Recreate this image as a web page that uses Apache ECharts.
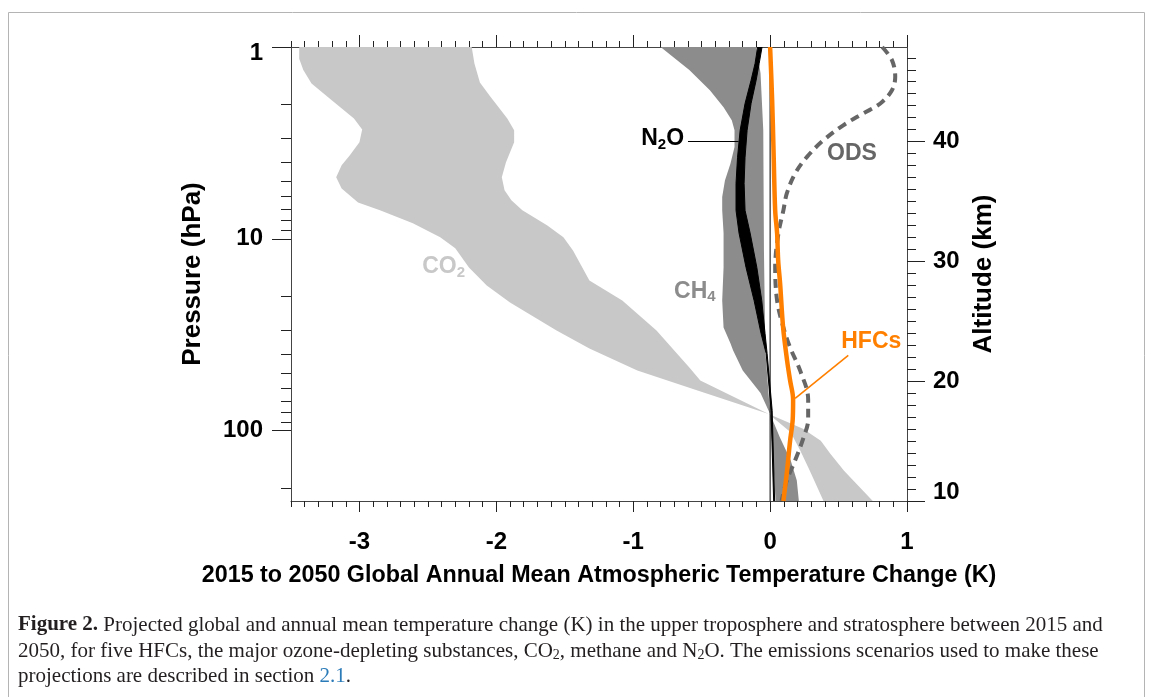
<!DOCTYPE html>
<html><head><meta charset="utf-8">
<script src="https://cdn.jsdelivr.net/npm/echarts@6/dist/echarts.min.js"></script>
<style>html,body{margin:0;padding:0;background:#fff}#c{width:1153px;height:697px}</style>
</head><body><div id="c"></div>
<script>
// ---- axis ranges & ticks ----
const tMin = -3.5, tMax = 1;
const pMin = 1, pMax = 233;
const zMin = 10, zMax = 47.9;
const xMajorTicks = [-3, -2, -1, 0, 1];
const xMinorTicks = [];
for (let i = 0; i <= 45; i++) xMinorTicks.push(+(tMin + i * 0.1).toFixed(1));
const pMajorTicks = [1, 10, 100];
const pMinorTicks = [2, 3, 4, 5, 6, 7, 8, 9, 20, 30, 40, 50, 60, 70, 80, 90, 200];
const zMajorTicks = [10, 20, 30, 40];
const zMinorTicks = [];
for (let z = 10; z <= 47; z++) zMinorTicks.push(z);

// ---- CO2 band (edges, pressure hPa / temperature change K) ----
const co2LeftP = [1, 1.15, 1.32, 1.55, 1.85, 2.36, 2.69, 3.14, 3.67, 4.14, 4.78, 5.46, 6.46, 7.11, 8.31, 9.83, 11.2, 14.1, 17.5, 21.5, 30.1, 37.3, 48.6, 61.8, 82, 102, 127, 162, 233];
const co2LeftT = [-3.44, -3.44, -3.41, -3.35, -3.22, -3.04, -2.98, -3.00, -3.07, -3.13, -3.17, -3.13, -3.01, -2.85, -2.61, -2.41, -2.30, -2.20, -2.07, -1.90, -1.56, -1.32, -0.97, -0.53, -0.01, 0.15, 0.22, 0.29, 0.39];
const co2RightP = [1, 1.22, 1.53, 1.79, 2.36, 2.72, 3.14, 4.00, 4.78, 5.59, 6.30, 7.11, 8.51, 9.83, 11.5, 16.5, 21.0, 30.1, 46.9, 54.8, 82, 97.9, 113, 132, 162, 233];
const co2RightT = [-2.18, -2.16, -2.12, -2.05, -1.92, -1.87, -1.87, -1.93, -1.96, -1.94, -1.89, -1.81, -1.63, -1.51, -1.44, -1.32, -1.08, -0.83, -0.59, -0.51, -0.01, 0.24, 0.37, 0.44, 0.54, 0.75];

// ---- CH4 band ----
const ch4LeftP = [1, 1.32, 1.68, 2.06, 2.41, 2.72, 3.32, 4.06, 4.96, 6.06, 7.11, 9.34, 14.1, 21.0, 29.0, 35.1, 38.2, 48.6, 63.8, 82, 132, 233];
const ch4LeftT = [-0.80, -0.59, -0.44, -0.34, -0.28, -0.26, -0.26, -0.29, -0.33, -0.35, -0.35, -0.34, -0.34, -0.35, -0.34, -0.29, -0.27, -0.20, -0.07, 0.0, 0.02, 0.04];
const ch4RightP = [1, 1.37, 2.72, 11.5, 38.2, 82, 108, 143, 182, 233];
const ch4RightT = [-0.10, -0.07, -0.05, -0.045, -0.035, 0.0, 0.07, 0.15, 0.195, 0.21];

// ---- N2O band ----
const n2oP = [1, 1.22, 1.49, 1.97, 2.72, 3.76, 5.14, 7.11, 9.34, 14.1, 21.0, 31.2, 39.6, 78.6, 233];
const n2oLeftT = [-0.091, -0.110, -0.139, -0.183, -0.219, -0.238, -0.249, -0.249, -0.227, -0.176, -0.117, -0.066, -0.029, 0.007, 0.026];
const n2oRightT = [-0.059, -0.080, -0.102, -0.139, -0.168, -0.183, -0.190, -0.183, -0.146, -0.097, -0.061, -0.037, -0.022, 0.015, 0.033];

// ---- ODS (dashed) ----
const odsP = [1, 1.17, 1.43, 1.68, 1.97, 2.22, 2.56, 3.07, 3.75, 4.56, 5.80, 7.11, 9.34, 14.1, 21.0, 29.0, 36.9, 48.6, 68.9, 87.6, 109, 143, 182, 233];
const odsT = [0.819, 0.890, 0.914, 0.890, 0.805, 0.680, 0.534, 0.388, 0.268, 0.183, 0.122, 0.097, 0.061, 0.037, 0.051, 0.097, 0.146, 0.219, 0.278, 0.278, 0.244, 0.183, 0.122, 0.084];

// ---- HFCs ----
const hfcP = [1, 1.90, 3.46, 7.11, 9.34, 13.0, 17.1, 29.0, 43.1, 54.8, 68.9, 87.6, 113, 161.5, 233];
const hfcT = [0.0, 0.015, 0.025, 0.037, 0.051, 0.059, 0.073, 0.095, 0.124, 0.146, 0.168, 0.165, 0.146, 0.124, 0.097];

// ---- annotations (data coordinates) ----
const annTexts = ['N{s|2}O', 'ODS', 'CH{s|4}', 'CO{s|2}', 'HFCs'];
const annT = [-0.785, 0.598, -0.55, -2.385, 0.739];
const annP = [3.0, 3.61, 18.8, 14.0, 34.5];
const annColors = ['#000000', '#666666', '#8c8c8c', '#c8c8c8', '#ff8000'];
const leaderT = [[-0.60, -0.23], [0.571, 0.183]];
const leaderP = [[3.11, 3.11], [40.6, 68.0]];
const leaderColors = ['#000000', '#ff8000'];

const FF = '"Liberation Sans", Arial, Helvetica, sans-serif';
const SERIF = '"Liberation Serif", "Times New Roman", serif';

function band(name, lp, lt, rp, rt, color, stroke) {
  return {
    type: 'custom', name: name, xAxisIndex: 0, yAxisIndex: 0, clip: true, silent: true,
    data: [[0, 1]],
    renderItem: function (params, api) {
      const pts = [];
      for (let i = 0; i < lp.length; i++) pts.push(api.coord([lt[i], lp[i]]));
      for (let i = rp.length - 1; i >= 0; i--) pts.push(api.coord([rt[i], rp[i]]));
      return {
        type: 'polygon', shape: { points: pts },
        style: { fill: color, stroke: stroke || null, lineWidth: stroke ? 1 : 0 }
      };
    }
  };
}

const chart = echarts.init(document.getElementById('c'), null, { renderer: 'canvas' });

const lineCol = '#444';
const tickCol = '#222';
const tickLabel = { fontSize: 24, fontWeight: 'bold', color: '#000', fontFamily: FF };
const titleStyle = { fontSize: 26, fontWeight: 'bold', color: '#000', fontFamily: FF };

function xAx(pos, len, ticks, major) {
  return {
    type: 'value', min: tMin, max: tMax, position: pos, gridIndex: 0,
    axisLine: { show: major, onZero: false, lineStyle: { color: lineCol, width: 1 } },
    axisTick: { show: true, length: len, customValues: ticks, lineStyle: { color: tickCol, width: 1 } },
    axisLabel: { show: false },
    splitLine: { show: false }, minorTick: { show: false }
  };
}
const xAxes = [xAx('bottom', 11, xMajorTicks, true), xAx('bottom', 6, xMinorTicks, false),
               xAx('top', 12, xMajorTicks, true), xAx('top', 6, xMinorTicks, false)];
xAxes[0].axisLabel = Object.assign({ show: true, customValues: xMajorTicks, margin: 29 }, tickLabel);
xAxes[0].name = '2015 to 2050 Global Annual Mean Atmospheric Temperature Change (K)';
xAxes[0].nameLocation = 'middle';
xAxes[0].nameGap = 63;
xAxes[0].nameTextStyle = Object.assign({}, titleStyle, { fontSize: 23.3 });

function yLog(len, ticks, major) {
  return {
    type: 'log', logBase: 10, min: pMin, max: pMax, inverse: true, position: 'left', gridIndex: 0,
    axisLine: { show: major, onZero: false, lineStyle: { color: lineCol, width: 1 } },
    axisTick: { show: true, length: len, customValues: ticks, lineStyle: { color: tickCol, width: 1 } },
    axisLabel: { show: false }, splitLine: { show: false }, minorTick: { show: false }
  };
}
function yAlt(len, ticks, major) {
  return {
    type: 'value', min: zMin, max: zMax, position: 'right', gridIndex: 0,
    axisLine: { show: major, onZero: false, lineStyle: { color: lineCol, width: 1 } },
    axisTick: { show: true, length: len, customValues: ticks, lineStyle: { color: tickCol, width: 1 } },
    axisLabel: { show: false }, splitLine: { show: false }, minorTick: { show: false }
  };
}
const yAxes = [yLog(19, pMajorTicks, true), yLog(10, pMinorTicks, false),
               yAlt(18, zMajorTicks, true), yAlt(9, zMinorTicks, false)];
yAxes[0].axisLabel = Object.assign({
  show: true, customValues: pMajorTicks, margin: 28,
  formatter: function (v) { return v === 1 ? '{t|1}' : String(v); },
  rich: { t: Object.assign({ padding: [12, 0, 0, 0] }, tickLabel) }
}, tickLabel);
yAxes[0].name = 'Pressure (hPa)';
yAxes[0].nameLocation = 'middle';
yAxes[0].nameGap = 85;
yAxes[0].nameTextStyle = titleStyle;
yAxes[2].axisLabel = Object.assign({
  show: true, customValues: zMajorTicks, margin: 26,
  formatter: function (v) { return v === 10 ? '{b|10}' : String(v); },
  rich: { b: Object.assign({ padding: [0, 0, 18, 0] }, tickLabel) }
}, tickLabel);
yAxes[2].name = 'Altitude (km)';
yAxes[2].nameLocation = 'middle';
yAxes[2].nameGap = 59;
yAxes[2].nameTextStyle = titleStyle;

const pairs = (P, T) => P.map((p, i) => [T[i], p]);

const option = {
  animation: false,
  backgroundColor: '#ffffff',
  grid: { left: 291, top: 47, right: 246, bottom: 196, containLabel: false },
  xAxis: xAxes,
  yAxis: yAxes,
  series: [
    band('CO2', co2LeftP, co2LeftT, co2RightP, co2RightT, '#c8c8c8'),
    band('CH4', ch4LeftP, ch4LeftT, ch4RightP, ch4RightT, '#8c8c8c'),
    band('N2O', n2oP, n2oLeftT, n2oP, n2oRightT, '#000000', '#000000'),
    {
      type: 'line', name: 'zero', xAxisIndex: 0, yAxisIndex: 0, silent: true,
      data: [[0, pMin], [0, pMax]], showSymbol: false, symbol: 'none',
      lineStyle: { color: '#000', width: 1 }
    },
    {
      type: 'line', name: 'ODS', xAxisIndex: 0, yAxisIndex: 0, silent: true,
      data: pairs(odsP, odsT), smooth: 0.35, showSymbol: false, symbol: 'none',
      lineStyle: { color: '#666666', width: 4, type: [9, 6], cap: 'butt' }
    },
    {
      type: 'line', name: 'HFCs', xAxisIndex: 0, yAxisIndex: 0, silent: true,
      data: pairs(hfcP, hfcT), smooth: 0.35, showSymbol: false, symbol: 'none',
      lineStyle: { color: '#ff8000', width: 4.5 }
    },
    {
      type: 'custom', name: 'annotations', xAxisIndex: 0, yAxisIndex: 0, silent: true, clip: false,
      data: [[0, 1]],
      renderItem: function (params, api) {
        const children = [];
        for (let k = 0; k < leaderT.length; k++) {
          const a = api.coord([leaderT[k][0], leaderP[k][0]]);
          const b = api.coord([leaderT[k][1], leaderP[k][1]]);
          children.push({ type: 'line', shape: { x1: a[0], y1: a[1], x2: b[0], y2: b[1] },
            style: { stroke: leaderColors[k], lineWidth: k === 0 ? 1.2 : 1.6 } });
        }
        for (let i = 0; i < annTexts.length; i++) {
          const c = api.coord([annT[i], annP[i]]);
          children.push({
            type: 'text', x: c[0], y: c[1],
            style: {
              text: annTexts[i], fill: annColors[i], fontSize: 23, fontWeight: 'bold', fontFamily: FF,
              align: 'center', verticalAlign: 'middle',
              rich: { s: { fill: annColors[i], fontSize: 15, fontWeight: 'bold', fontFamily: FF, padding: [12, 0, 0, 0] } }
            }
          });
        }
        return { type: 'group', children: children };
      }
    }
  ],
  graphic: [
    { type: 'rect', silent: true, shape: { x: 8.5, y: 12.5, width: 1136, height: 720 },
      style: { fill: 'none', stroke: '#b4b4b4', lineWidth: 1 } },
    { type: 'text', x: 18, y: 625, silent: true,
      style: { text: '{b|Figure 2.} Projected global and annual mean temperature change (K) in the upper troposphere and stratosphere between 2015 and',
        fontSize: 21, fontFamily: SERIF, fill: '#231f20', verticalAlign: 'middle',
        rich: { b: { fontSize: 21, fontFamily: SERIF, fontWeight: 'bold', fill: '#231f20' } } } },
    { type: 'text', x: 18, y: 651, silent: true,
      style: { text: '2050, for five HFCs, the major ozone-depleting substances, CO{s|2}, methane and N{s|2}O. The emissions scenarios used to make these',
        fontSize: 21, fontFamily: SERIF, fill: '#231f20', verticalAlign: 'middle',
        rich: { s: { fontSize: 14, fontFamily: SERIF, fill: '#231f20', padding: [8, 0, 0, 0] } } } },
    { type: 'text', x: 18, y: 676, silent: true,
      style: { text: 'projections are described in section {l|2.1}.',
        fontSize: 21, fontFamily: SERIF, fill: '#231f20', verticalAlign: 'middle',
        rich: { l: { fontSize: 21, fontFamily: SERIF, fill: '#2b7bb9' } } } }
  ]
};
chart.setOption(option);
</script>
</body></html>
